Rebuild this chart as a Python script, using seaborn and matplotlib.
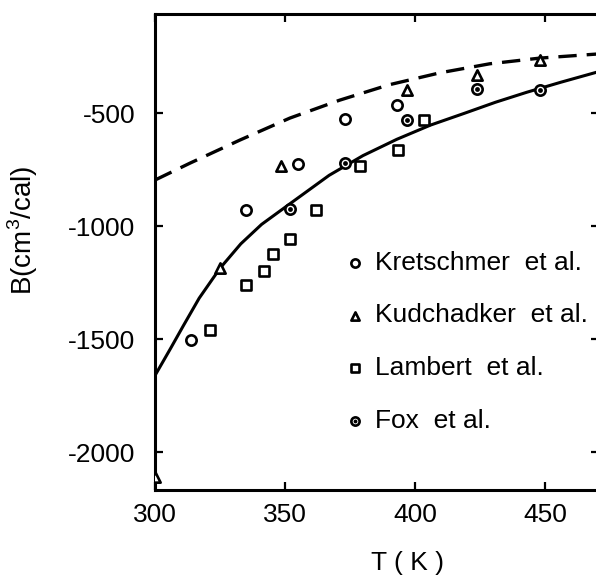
"""
plot.py
Second virial coefficient B vs temperature T, comparison of literature data
with a fitted curve (solid) and a predicted curve (dashed).
"""

import numpy as np
import pandas as pd
import matplotlib
matplotlib.use("Agg")
import matplotlib.pyplot as plt
import seaborn as sns

# ---------------------------------------------------------------------------
# Data
# ---------------------------------------------------------------------------
kret_T = [314, 335, 355, 373, 393]
kret_B = [-1505, -928, -725, -525, -465]

kud_T = [300, 325, 348.5, 397, 424, 448]
kud_B = [-2110, -1186, -735, -400, -332, -265]

lam_T = [321, 335, 342, 345.5, 352, 362, 379, 393.5, 403.5]
lam_B = [-1460, -1260, -1200, -1125, -1055, -930, -735, -665, -530]

fox_T = [352, 373, 397, 424, 448]
fox_B = [-925, -720, -530, -395, -398]

solid_T = [300, 306, 311, 317, 325, 333, 341, 352, 367, 380, 393, 406,
           419, 431, 443, 456, 470]
solid_B = [-1660, -1540, -1438, -1318, -1186, -1078, -992, -900, -775,
           -688, -616, -553, -501, -452, -408, -364, -319]

dash_T = [300, 313.5, 332.7, 351.9, 371, 390, 409.6, 428.8, 448, 470]
dash_B = [-796, -721, -619, -522, -443, -375, -322, -282, -257, -239]

x_ticks = [300, 350, 400, 450]
y_ticks = [-2000, -1500, -1000, -500]

sources = {
    "Kretschmer  et al.": (kret_T, kret_B, "o"),
    "Kudchadker  et al.": (kud_T, kud_B, "^"),
    "Lambert  et al.": (lam_T, lam_B, "s"),
    "Fox  et al.": (fox_T, fox_B, "o"),
}

# ---------------------------------------------------------------------------
# Style
# ---------------------------------------------------------------------------
sns.set_style("ticks")
plt.rcParams["font.family"] = ["Liberation Sans", "DejaVu Sans"]
plt.rcParams["axes.unicode_minus"] = False
plt.rcParams["mathtext.fontset"] = "custom"
plt.rcParams["mathtext.rm"] = "Liberation Sans"
plt.rcParams["text.color"] = "black"
plt.rcParams["axes.labelcolor"] = "black"
plt.rcParams["xtick.color"] = "black"
plt.rcParams["ytick.color"] = "black"

FS = 19

fig = plt.figure(figsize=(5.96, 5.81), dpi=100)
ax = fig.add_axes([155 / 596, 1 - 490 / 581, 444 / 596, 476 / 581])

# curves
sns.lineplot(x=solid_T, y=solid_B, color="black", lw=2.2, ax=ax)
sns.lineplot(x=dash_T, y=dash_B, color="black", lw=2.4,
             linestyle=(0, (5.5, 3.0)), ax=ax)

# data points
handles = []
for name, (T, B, mk) in sources.items():
    df = pd.DataFrame({"T": T, "B": B})
    sns.scatterplot(data=df, x="T", y="B", marker=mk, s=55,
                    facecolors="white", edgecolor="black", linewidth=1.9,
                    zorder=3, ax=ax)
    ring = ax.collections[-1]
    if name.startswith("Fox"):
        sns.scatterplot(data=df, x="T", y="B", marker="o", s=12,
                        color="black", edgecolor="black", linewidth=0,
                        zorder=4, ax=ax)
        handles.append((ring, ax.collections[-1]))
    else:
        handles.append(ring)

ax.legend(handles, list(sources.keys()), frameon=False, fontsize=FS,
          loc="upper left", bbox_to_anchor=(347 / 596, 1 - 251 / 581),
          bbox_transform=fig.transFigure, borderpad=0, borderaxespad=0,
          handlelength=0.6, handletextpad=0.46, labelspacing=1.08,
          markerscale=0.8)

ax.set_xlim(300, 470.8)
ax.set_ylim(-2166, -62)
ax.set_xticks(x_ticks)
ax.set_yticks(y_ticks)

for side in ["left", "right", "top", "bottom"]:
    ax.spines[side].set_visible(True)
    ax.spines[side].set_linewidth(2.2)
    ax.spines[side].set_color("black")

ax.tick_params(axis="both", which="major", direction="in", length=6,
               width=1.6, color="black", labelcolor="black", labelsize=FS,
               top=True, right=True, labeltop=False, labelright=False)
ax.tick_params(axis="x", pad=9)
ax.tick_params(axis="y", pad=14)

ax.set_xlabel("T ( K )", fontsize=FS)
ax.set_ylabel(r"B(cm$^3$/cal)", fontsize=FS + 1)
ax.xaxis.set_label_coords(0.5676, -0.128)
ax.yaxis.set_label_coords(-0.259, 0.546)

fig.savefig("out.png", dpi=100, facecolor="white")
plt.close(fig)
